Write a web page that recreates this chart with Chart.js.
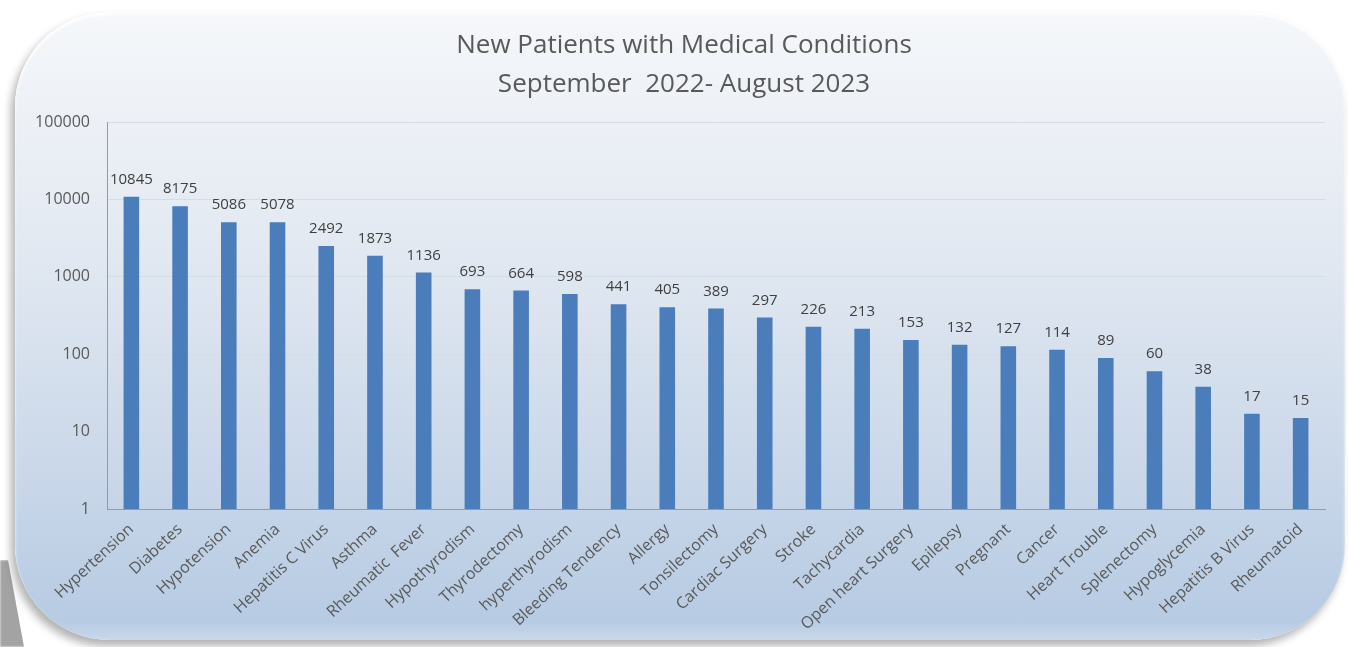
<!DOCTYPE html>
<html>
<head>
<meta charset="utf-8">
<script src="https://cdn.jsdelivr.net/npm/chart.js@4"></script>
<style>
  html, body { margin: 0; padding: 0; background: #fff; overflow: hidden; }
  body { width: 1348px; height: 647px; position: relative; }
  #shade {
    position: absolute; left: 0; top: 560px; width: 40px; height: 87px;
    background: #a3a3a3;
    clip-path: polygon(0 0, 8px 0, 24px 87px, 0 87px);
    filter: blur(1px);
  }
  #panel {
    position: absolute; left: 15px; top: 12px; width: 1330px; height: 628px;
    border-radius: 95px;
    background: linear-gradient(to bottom, #f5f7fa 0%, #e4eaf2 35%, #ccd9ea 70%, #b7cbe3 97%, #c9d8ea 100%);
    box-shadow: -4px 6px 8px rgba(0,0,0,0.3), inset 0 3px 3px rgba(255,255,255,0.9);
  }
  #wrap { position: absolute; left: 0; top: 0; width: 1348px; height: 647px; }
</style>
</head>
<body>
<div id="shade"></div>
<div id="panel"></div>
<div id="wrap"><canvas id="bar-chart"></canvas></div>
<script>
const categories = ['Hypertension', 'Diabetes', 'Hypotension', 'Anemia', 'Hepatitis C Virus', 'Asthma',
    'Rheumatic  Fever', 'Hypothyrodism', 'Thyrodectomy', 'hyperthyrodism', 'Bleeding Tendency', 'Allergy',
    'Tonsilectomy', 'Cardiac Surgery', 'Stroke', 'Tachycardia', 'Open heart Surgery', 'Epilepsy',
    'Pregnant', 'Cancer', 'Heart Trouble', 'Splenectomy', 'Hypoglycemia', 'Hepatitis B Virus', 'Rheumatoid'];
const patients = [10845, 8175, 5086, 5078, 2492, 1873, 1136, 693, 664, 598, 441, 405,
    389, 297, 226, 213, 153, 132, 127, 114, 89, 60, 38, 17, 15];
const yTicks = [1, 10, 100, 1000, 10000, 100000];
const titleLines = ['New Patients with Medical Conditions', 'September  2022- August 2023'];

const FONT = "'Open Sans', sans-serif";

// value labels above each bar
const valueLabels = {
    id: 'valueLabels',
    afterDatasetsDraw(chart) {
        const c = chart.ctx;
        const meta = chart.getDatasetMeta(0);
        c.save();
        c.font = '15px ' + FONT;
        c.fillStyle = '#404040';
        c.textAlign = 'center';
        c.textBaseline = 'alphabetic';
        meta.data.forEach((bar, i) => {
            c.fillText(String(patients[i]), bar.x, bar.y - 13);
        });
        c.restore();
    }
};

// two-line title, centred a little right of the canvas middle like the original
const chartTitle = {
    id: 'chartTitle',
    afterDraw(chart) {
        const c = chart.ctx;
        c.save();
        c.font = '26px ' + FONT;
        c.fillStyle = '#595959';
        c.textAlign = 'center';
        c.textBaseline = 'alphabetic';
        c.fillText(titleLines[0], 684, 53);
        c.fillText(titleLines[1], 684, 92);
        c.restore();
    }
};

const ctx = document.getElementById('bar-chart').getContext('2d');

new Chart(ctx, {
    type: 'bar',
    data: {
        labels: categories,
        datasets: [{
            data: patients,
            backgroundColor: '#4a7dba',
            borderWidth: 0,
            barPercentage: 0.32,
            categoryPercentage: 1
        }]
    },
    options: {
        responsive: true,
        maintainAspectRatio: false,
        animation: false,
        layout: { padding: { left: 20, right: 23, top: 122, bottom: 4 } },
        plugins: {
            legend: { display: false },
            tooltip: { enabled: false },
            title: { display: false }
        },
        scales: {
            y: {
                type: 'logarithmic',
                min: 1,
                max: 100000,
                afterBuildTicks: s => { s.ticks = yTicks.map(v => ({ value: v })); },
                afterFit: s => { s.width = 87; },
                ticks: {
                    color: '#595959',
                    font: { family: FONT, size: 16 },
                    padding: 17,
                    callback: v => String(v)
                },
                grid: { color: '#d4dce8', lineWidth: 1, drawTicks: false },
                border: { display: true, color: '#7f9fcb', width: 1 }
            },
            x: {
                afterFit: s => { s.height = 134; },
                ticks: {
                    color: '#595959',
                    font: { family: FONT, size: 16 },
                    minRotation: 43,
                    maxRotation: 43,
                    autoSkip: false,
                    padding: 11
                },
                grid: { display: false, drawTicks: false },
                border: { display: true, color: '#7f9fcb', width: 1 }
            }
        }
    },
    plugins: [valueLabels, chartTitle]
});
</script>
</body>
</html>
